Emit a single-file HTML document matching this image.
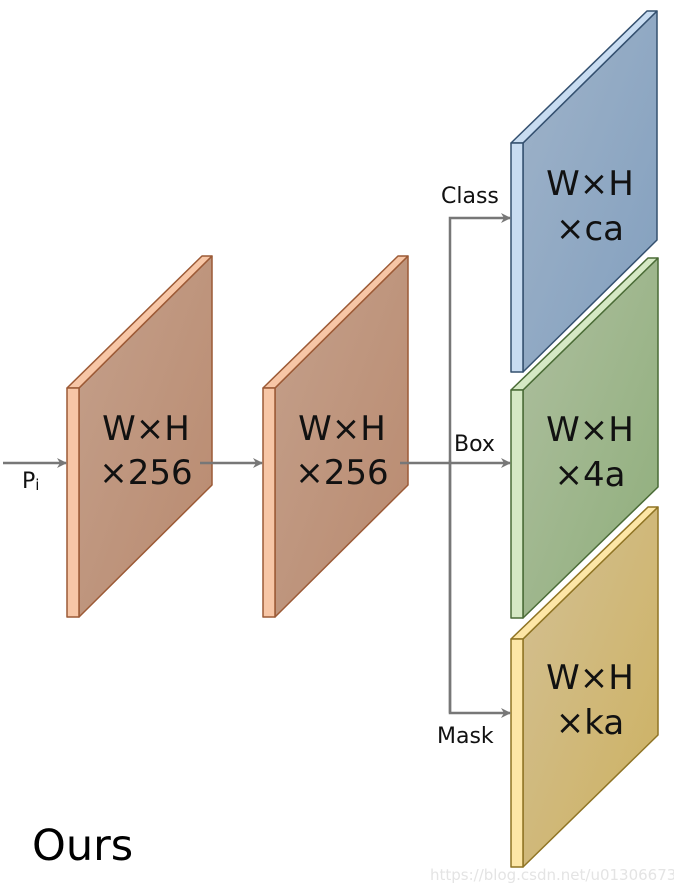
<!DOCTYPE html>
<html><head><meta charset="utf-8"><style>
html,body{margin:0;padding:0;background:#fff;}
svg{display:block;}
text{font-family:"DejaVu Sans","Liberation Sans",sans-serif;}
</style></head><body>
<svg width="674" height="894" viewBox="0 0 674 894" xmlns="http://www.w3.org/2000/svg">
<defs>
<linearGradient id="go" x1="0" y1="0" x2="1" y2="1"><stop offset="0" stop-color="#c4a08b"/><stop offset="1" stop-color="#b98a6f"/></linearGradient>
<linearGradient id="gb" x1="0" y1="0" x2="1" y2="1"><stop offset="0" stop-color="#9fb3c9"/><stop offset="1" stop-color="#829fbe"/></linearGradient>
<linearGradient id="gg" x1="0" y1="0" x2="1" y2="1"><stop offset="0" stop-color="#aebf9f"/><stop offset="1" stop-color="#8fae7b"/></linearGradient>
<linearGradient id="gy" x1="0" y1="0" x2="1" y2="1"><stop offset="0" stop-color="#d3c094"/><stop offset="1" stop-color="#cdb160"/></linearGradient>
<marker id="ar" markerWidth="10" markerHeight="10" refX="9" refY="5" orient="auto" markerUnits="userSpaceOnUse"><path d="M0,0 L10,5 L0,10 L3,5 Z" fill="#777"/></marker>
</defs>

<!-- panel template: x0,y0 -->
<g stroke-width="1.5" stroke-linejoin="round">
<!-- orange 1 -->
<g stroke="#9c5a36">
<polygon points="79,388 212,256 212,485 79,617" fill="url(#go)"/>
<polygon points="67,388 202,256 212,256 79,388" fill="#f7c6a6"/>
<rect x="67" y="388" width="12" height="229" fill="#f7c6a6"/>
</g>
<!-- orange 2 -->
<g stroke="#9c5a36">
<polygon points="275,388 408,256 408,485 275,617" fill="url(#go)"/>
<polygon points="263,388 398,256 408,256 275,388" fill="#f7c6a6"/>
<rect x="263" y="388" width="12" height="229" fill="#f7c6a6"/>
</g>
<!-- blue -->
<g stroke="#34506f">
<polygon points="523,143 657,11 657,240 523,372" fill="url(#gb)"/>
<polygon points="511,143 647,11 657,11 523,143" fill="#c8dcf1"/>
<rect x="511" y="143" width="12" height="229" fill="#c8dcf1"/>
</g>
<!-- green -->
<g stroke="#4a6b36">
<polygon points="523,390 658,258 658,487 523,618" fill="url(#gg)"/>
<polygon points="511,390 648,258 658,258 523,390" fill="#d5e8c4"/>
<rect x="511" y="390" width="12" height="228" fill="#d5e8c4"/>
</g>
<!-- yellow -->
<g stroke="#8f7424">
<polygon points="523,639 658,507 658,735 523,867" fill="url(#gy)"/>
<polygon points="511,639 648,507 658,507 523,639" fill="#fde6a6"/>
<rect x="511" y="639" width="12" height="228" fill="#fde6a6"/>
</g>
</g>

<!-- connectors -->
<g stroke="#777" stroke-width="2.5" fill="none">
<line x1="3" y1="463" x2="66" y2="463" marker-end="url(#ar)"/>
<line x1="200" y1="463" x2="262" y2="463" marker-end="url(#ar)"/>
<line x1="400" y1="463" x2="510" y2="463" marker-end="url(#ar)"/>
<polyline points="450,713 450,218 510,218" marker-end="url(#ar)"/>
<polyline points="450,460 450,713 510,713" marker-end="url(#ar)"/>
</g>

<!-- labels -->
<g fill="#111" font-size="34" text-anchor="middle">
<text x="146" y="440">W×H</text><text x="146" y="484">×256</text>
<text x="342" y="440">W×H</text><text x="342" y="484">×256</text>
<text x="590" y="195">W×H</text><text x="590" y="240">×ca</text>
<text x="590" y="441">W×H</text><text x="590" y="486">×4a</text>
<text x="590" y="689">W×H</text><text x="590" y="734">×ka</text>
</g>
<g fill="#111" font-size="22">
<text x="441" y="203">Class</text>
<text x="454" y="451">Box</text>
<text x="437" y="743">Mask</text>
<text x="22" y="488">P<tspan font-size="15" dy="2">i</tspan></text>
</g>
<text x="32" y="860" font-family="'Liberation Serif',serif" font-size="43" fill="#000">Ours</text>
<text x="430" y="880" font-family="'Liberation Sans',sans-serif" font-size="15" fill="#e4e4e4">https://blog.csdn.net/u013066730</text>
</svg>
</body></html>
